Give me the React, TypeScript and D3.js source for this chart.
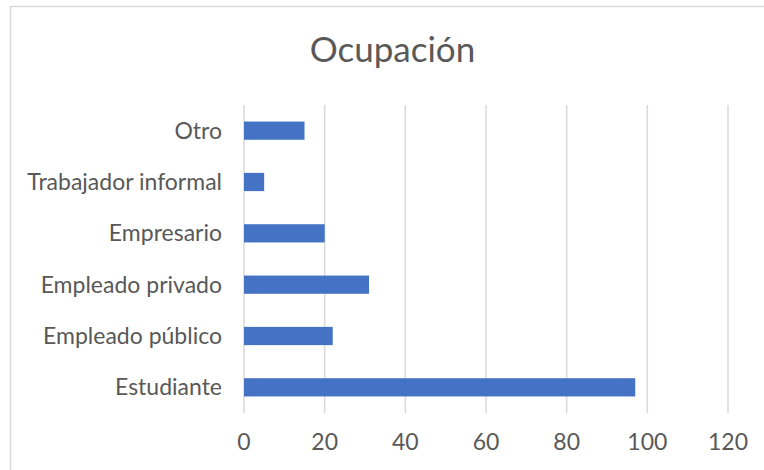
import React, { useEffect, useRef } from "react";
import * as d3 from "d3";

const categories = ["Estudiante", "Empleado público", "Empleado privado", "Empresario", "Trabajador informal", "Otro"];
const values = [97, 22, 31, 20, 5, 15];
const xTicks = [0, 20, 40, 60, 80, 100, 120];
const title = "Ocupación";

const App = () => {
    const svgRef = useRef<SVGSVGElement>(null);

    useEffect(() => {
        const width = 764;
        const height = 470;
        const margin = { top: 105, right: 36, bottom: 57, left: 244 };
        const font = "Lato, Carlito, Calibri, sans-serif";
        const textColor = "#595959";

        const svg = d3.select(svgRef.current)
            .attr("width", width)
            .attr("height", height);

        svg.selectAll("*").remove();

        // chart area frame
        svg.append("rect")
            .attr("x", 10.5)
            .attr("y", 6.5)
            .attr("width", 800)
            .attr("height", 500)
            .attr("fill", "#ffffff")
            .attr("stroke", "#d9d9d9")
            .attr("stroke-width", 1.5);

        svg.append("text")
            .attr("x", 392.5)
            .attr("y", 62)
            .attr("text-anchor", "middle")
            .style("font-family", font)
            .style("font-size", "35px")
            .attr("fill", textColor)
            .text(title);

        const xScale = d3.scaleLinear()
            .domain([0, 120])
            .range([margin.left, width - margin.right]);

        const yScale = d3.scaleBand()
            .domain(categories)
            .range([height - margin.bottom, margin.top])
            .paddingInner(0.645)
            .paddingOuter(0.3225);

        // vertical gridlines
        svg.append("g")
            .selectAll("line")
            .data(xTicks)
            .enter()
            .append("line")
            .attr("x1", d => xScale(d))
            .attr("x2", d => xScale(d))
            .attr("y1", margin.top)
            .attr("y2", height - margin.bottom)
            .attr("stroke", "#d9d9d9")
            .attr("stroke-width", 1.5);

        svg.append("g")
            .selectAll("rect")
            .data(values)
            .enter()
            .append("rect")
            .attr("x", xScale(0))
            .attr("y", (d, i) => yScale(categories[i]))
            .attr("width", d => xScale(d) - xScale(0))
            .attr("height", yScale.bandwidth())
            .attr("fill", "#4472c4");

        // category labels
        svg.append("g")
            .selectAll("text")
            .data(categories)
            .enter()
            .append("text")
            .attr("x", margin.left - 22)
            .attr("y", d => yScale(d) + yScale.bandwidth() / 2)
            .attr("dy", "0.35em")
            .attr("text-anchor", "end")
            .style("font-family", font)
            .style("font-size", "23px")
            .attr("fill", textColor)
            .text(d => d);

        // x tick labels
        svg.append("g")
            .selectAll("text")
            .data(xTicks)
            .enter()
            .append("text")
            .attr("x", d => xScale(d))
            .attr("y", 442)
            .attr("dy", "0.35em")
            .attr("text-anchor", "middle")
            .style("font-family", font)
            .style("font-size", "23px")
            .attr("fill", textColor)
            .text(d => d);
    }, []);

    return <svg ref={svgRef} style={{ position: "absolute", left: 0, top: 0 }}></svg>;
};

export default App;
